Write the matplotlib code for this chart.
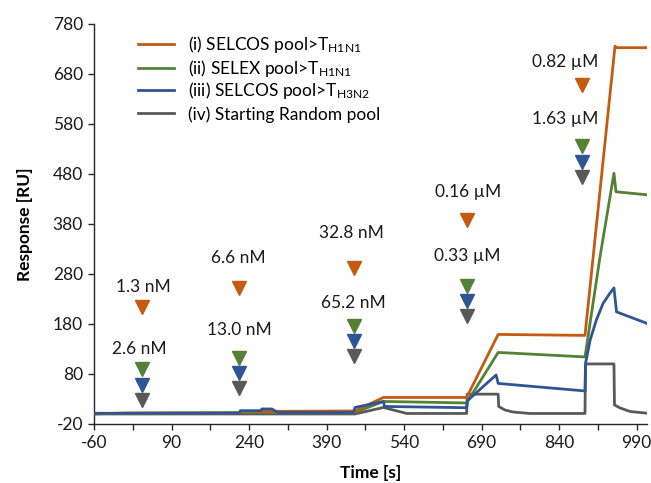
import matplotlib
matplotlib.use("Agg")
import matplotlib.pyplot as plt

plt.rcParams['font.family'] = ['Lato', 'DejaVu Sans']
plt.rcParams['mathtext.default'] = 'regular'
plt.rcParams['axes.unicode_minus'] = False

# ---- data ----
t_orange = [-60, 222, 226, 445, 500, 661, 722, 890, 948, 952, 1010]
y_orange = [1, 1, 5, 6, 33, 33, 159, 157, 735, 732, 732]

t_green = [-60, 0, 222, 445, 500, 661, 722, 890, 919, 946, 950, 1010]
y_green = [0, 2, 3, 3, 25, 22, 123, 114, 314, 481, 444, 438]

t_blue = [-60, 222, 223, 262, 265, 284, 296, 442, 445, 500, 502, 661, 663, 718, 722,
          890, 891, 900, 912, 925, 938, 946, 951, 1010]
y_blue = [1.4, 1.4, 6.6, 6.6, 10, 10, 3, 3, 13, 25, 15, 12.5, 27, 78, 61,
          46, 101, 148, 188, 221, 241, 252, 204, 181]

t_gray = [-60, 445, 500, 545, 661, 662, 722, 723, 735, 750, 783, 890, 891, 946, 947,
          958, 977, 1010]
y_gray = [0, 0, 13, 1, 1, 39.6, 39.6, 15, 8, 4, 1, 1, 100, 100, 18, 12, 5, 1.5]

labels = [r'(i) SELCOS pool>T$_{H1N1}$', r'(ii) SELEX pool>T$_{H1N1}$',
          r'(iii) SELCOS pool>T$_{H3N2}$', '(iv) Starting Random pool']
colors = ['#C55A11', '#548235', '#2F5597', '#595959']

# injection markers
inj_t = [33, 220.5, 443, 662.6, 885]
inj_orange = [213, 251, 292, 388, 657.5]
inj_green = [89, 111, 176, 256, 535.6]
inj_blue = [58, 81, 146.5, 226, 504]
inj_gray = [28, 51, 116, 196, 474]

# concentration labels
conc_text = ['1.3 nM', '2.6 nM', '6.6 nM', '13.0 nM', '32.8 nM', '65.2 nM',
             '0.16 µM', '0.33 µM', '0.82 µM', '1.63 µM']
conc_t = [35.4, 27.6, 219.5, 222, 439, 441.6, 663, 661.6, 851, 851]
conc_y = [253, 129, 312, 168, 362, 221, 444, 316, 704, 589]

# ticks
x_ticks = [-60, 90, 240, 390, 540, 690, 840, 990]
x_minor = [15, 165, 315, 465, 615, 765, 915]
y_ticks = [-20, 80, 180, 280, 380, 480, 580, 680, 780]

# ---- figure ----
fig = plt.figure(figsize=(6.51, 4.83), dpi=100)
ax = fig.add_axes([0.1444, 0.1222, 0.8495, 0.8288])

series = [(t_orange, y_orange), (t_green, y_green), (t_blue, y_blue), (t_gray, y_gray)]
handles = []
for (tt, yy), c, lab, z in zip(series, colors, labels, [4, 3, 5, 2]):
    h, = ax.plot(tt, yy, color=c, lw=2.0, label=lab, zorder=z)
    handles.append(h)

for yy, c in zip([inj_orange, inj_green, inj_blue, inj_gray], colors):
    ax.plot(inj_t, yy, linestyle='none', marker='v', ms=9.5, color=c, mec=c, zorder=6)

for s, tx, ty in zip(conc_text, conc_t, conc_y):
    ax.text(tx, ty, s, ha='center', va='center', fontsize=12.5, color='#1a1a1a')

ax.set_xlim(-60, 1010)
ax.set_ylim(-20, 780)
ax.set_xticks(x_ticks)
ax.set_xticks(x_minor, minor=True)
ax.set_yticks(y_ticks)
for s in ['top', 'right']:
    ax.spines[s].set_visible(False)
for s in ['left', 'bottom']:
    ax.spines[s].set_color('#262626')
    ax.spines[s].set_linewidth(1.0)
ax.tick_params(axis='both', which='both', direction='out', color='#262626', width=1.0,
               labelsize=12.5, labelcolor='#1a1a1a')
ax.tick_params(which='both', length=4.5)

ax.set_xlabel('Time [s]', fontsize=12.5, fontweight='bold', labelpad=10)
ax.set_ylabel('Response [RU]', fontsize=12.5, fontweight='bold', labelpad=14)

# one legend row per entry, evenly spaced like the reference
row_y = [0.9468, 0.8886, 0.8319, 0.7737]
n = len(handles)
for i, (h, lab, ry) in enumerate(zip(handles, labels, row_y)):
    leg = ax.legend([h], [lab], loc='center left', bbox_to_anchor=(0.0796, ry),
                    frameon=False, fontsize=12.5, handlelength=2.1, handletextpad=0.75,
                    borderpad=0, borderaxespad=0)
    if i < n - 1:
        ax.add_artist(leg)

fig.savefig('out.png', dpi=100)
